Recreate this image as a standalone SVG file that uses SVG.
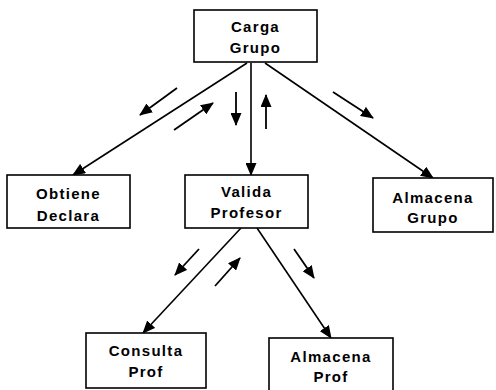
<svg xmlns="http://www.w3.org/2000/svg" width="496" height="390" viewBox="0 0 496 390">
  <style>
    .box { fill: #ffffff; stroke: #000000; stroke-width: 1.6; }
    .lbl { font-family: "Liberation Sans", Arial, sans-serif; font-weight: bold; font-size: 15px; letter-spacing: 1.3px; fill: #000000; text-anchor: middle; }
    .edge { stroke: #000000; stroke-width: 1.6; fill: none; marker-end: url(#head); }
    .flow { stroke: #000000; stroke-width: 1.8; fill: none; marker-end: url(#head); }
  </style>
  <defs>
    <marker id="head" viewBox="0 0 13 11" refX="12" refY="5.5" markerWidth="13" markerHeight="11" markerUnits="userSpaceOnUse" orient="auto">
      <path d="M0,0 L13,5.5 L0,11 Z" fill="#000000"/>
    </marker>
  </defs>
  <rect width="496" height="390" fill="#ffffff"/>

  <g id="connectors">
    <!-- structure lines -->
    <line class="edge" x1="247" y1="63" x2="73" y2="175"/>
    <line class="edge" x1="251" y1="63" x2="251" y2="175"/>
    <line class="edge" x1="265" y1="63" x2="433" y2="178"/>
    <line class="edge" x1="241" y1="228" x2="143" y2="333"/>
    <line class="edge" x1="257" y1="228" x2="331" y2="338"/>
    <!-- data flow indicators -->
    <line class="flow" x1="177" y1="88" x2="140" y2="115"/>
    <line class="flow" x1="174" y1="130" x2="213" y2="103"/>
    <line class="flow" x1="236" y1="92" x2="236" y2="125"/>
    <line class="flow" x1="266" y1="129" x2="266" y2="95"/>
    <line class="flow" x1="333" y1="92" x2="373" y2="118"/>
    <line class="flow" x1="199" y1="249" x2="175" y2="275"/>
    <line class="flow" x1="215" y1="286" x2="240" y2="258"/>
    <line class="flow" x1="294" y1="249" x2="314" y2="278"/>
  </g>

  <g id="carga-grupo">
    <rect class="box" x="194" y="10" width="123" height="52"/>
    <text class="lbl" x="255.5" y="32">Carga</text>
    <text class="lbl" x="255.5" y="53">Grupo</text>
  </g>

  <g id="obtiene-declara">
    <rect class="box" x="7" y="175" width="123" height="53"/>
    <text class="lbl" x="68.5" y="199">Obtiene</text>
    <text class="lbl" x="68.5" y="221">Declara</text>
  </g>

  <g id="valida-profesor">
    <rect class="box" x="185" y="175" width="123" height="53"/>
    <text class="lbl" x="246.5" y="197">Valida</text>
    <text class="lbl" x="246.5" y="218">Profesor</text>
  </g>

  <g id="almacena-grupo">
    <rect class="box" x="373" y="178" width="120" height="54"/>
    <text class="lbl" x="433" y="203">Almacena</text>
    <text class="lbl" x="433" y="223">Grupo</text>
  </g>

  <g id="consulta-prof">
    <rect class="box" x="86" y="333" width="120" height="55"/>
    <text class="lbl" x="146" y="356">Consulta</text>
    <text class="lbl" x="146" y="377">Prof</text>
  </g>

  <g id="almacena-prof">
    <rect class="box" x="269" y="338" width="124" height="56"/>
    <text class="lbl" x="331" y="362">Almacena</text>
    <text class="lbl" x="331" y="382">Prof</text>
  </g>
</svg>
